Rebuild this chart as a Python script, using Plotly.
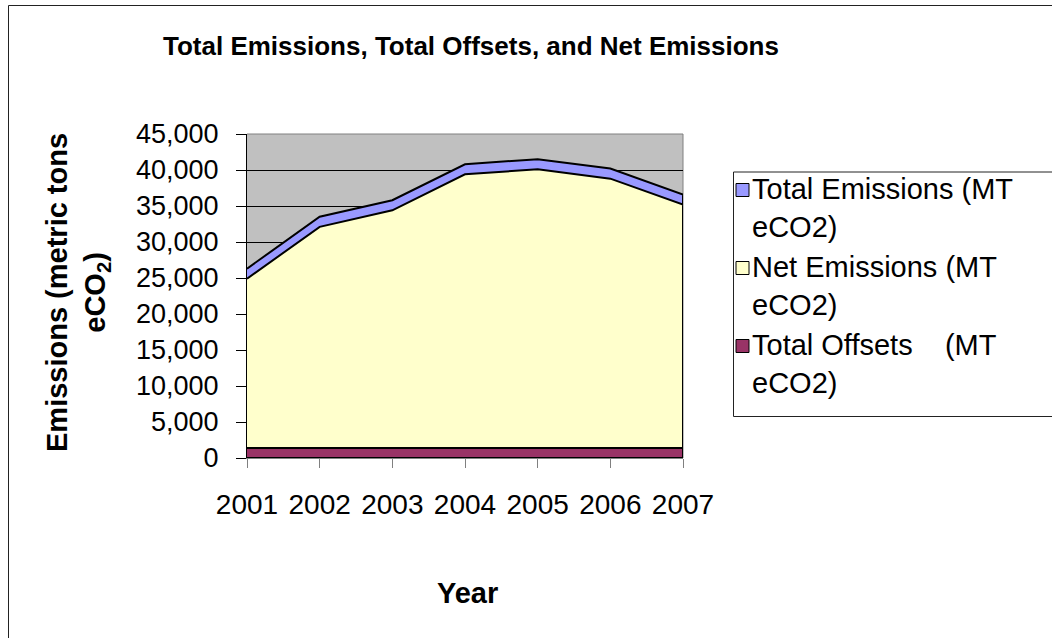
import plotly.graph_objects as go

# Data (metric tons eCO2)
years = [2001, 2002, 2003, 2004, 2005, 2006, 2007]
total_emissions = [26300, 33500, 35800, 40800, 41500, 40200, 36600]
net_emissions = [24900, 32100, 34400, 39400, 40100, 38800, 35200]
total_offsets = [1400, 1400, 1400, 1400, 1400, 1400, 1400]

series_names = [
    ("Total Emissions (MT", "eCO2)"),
    ("Net Emissions (MT", "eCO2)"),
    ("Total Offsets\u00a0\u00a0\u00a0\u00a0(MT", "eCO2)"),
]
series_colors = ["#9999FF", "#FFFFCC", "#993366"]

FONT = "Liberation Sans, Arial, sans-serif"
W, H = 1052, 638
# plot area in pixels
L, R, T, B = 247, 683, 134, 458


def px(x):
    return (x - L) / (R - L)


def py(y):
    return (B - y) / (B - T)


fig = go.Figure()

# Overlapping area series, each closed down to zero
for name, vals, color in zip(series_names, [total_emissions, net_emissions, total_offsets], series_colors):
    fig.add_trace(go.Scatter(
        x=years + [years[-1], years[0]],
        y=vals + [0, 0],
        mode="lines",
        fill="toself",
        fillcolor=color,
        line=dict(color="black", width=2),
        name=" ".join(name),
        showlegend=False,
        hoverinfo="skip",
    ))

shapes = []
annotations = []

# outer chart frame
shapes.append(dict(type="rect", xref="paper", yref="paper",
                   x0=px(8.5), x1=px(1070), y0=py(5.5), y1=py(660),
                   line=dict(color="#222222", width=1), layer="below"))
# plot-area top and right edges
shapes.append(dict(type="line", xref="paper", yref="paper",
                   x0=0, x1=1, y0=1, y1=1, line=dict(color="#808080", width=1), layer="below"))
shapes.append(dict(type="line", xref="paper", yref="paper",
                   x0=1, x1=1, y0=0, y1=1, line=dict(color="#808080", width=1), layer="below"))

# legend box
shapes.append(dict(type="rect", xref="paper", yref="paper",
                   x0=px(733.5), x1=px(1070), y0=py(172), y1=py(416.5),
                   line=dict(color="#222222", width=1), fillcolor="white", layer="below"))

legend_top = 190
item_pitch = 78
line_pitch = 38.5
for i, (name, color) in enumerate(zip(series_names, series_colors)):
    cy = legend_top + i * item_pitch
    shapes.append(dict(type="rect", xref="paper", yref="paper",
                       x0=px(736), x1=px(749), y0=py(cy - 6.5), y1=py(cy + 6.5),
                       line=dict(color="black", width=1), fillcolor=color, layer="above"))
    for j, part in enumerate(name):
        annotations.append(dict(
            text=part, xref="paper", yref="paper",
            x=px(750), y=py(cy - 1.5 + j * line_pitch),
            xanchor="left", yanchor="middle", showarrow=False,
            font=dict(family=FONT, size=29, color="black"),
        ))

# chart title
annotations.append(dict(
    text="Total Emissions, Total Offsets, and Net Emissions",
    xref="paper", yref="paper", x=px(471), y=py(46),
    xanchor="center", yanchor="middle", showarrow=False,
    font=dict(family=FONT, size=26, color="black", weight="bold"),
))
# y axis title
annotations.append(dict(
    text="Emissions (metric tons<br>eCO<sub>2</sub>)",
    xref="paper", yref="paper", x=px(78), y=py(293),
    xanchor="center", yanchor="middle", showarrow=False, textangle=-90,
    font=dict(family=FONT, size=29, color="black", weight="bold"),
))
# x axis title
annotations.append(dict(
    text="Year", xref="paper", yref="paper", x=px(467), y=py(593),
    xanchor="center", yanchor="middle", showarrow=False,
    font=dict(family=FONT, size=29, color="black", weight="bold"),
))

fig.update_layout(
    width=W, height=H, autosize=False,
    margin=dict(l=L, r=W - R, t=T, b=H - B, pad=0),
    paper_bgcolor="white",
    plot_bgcolor="#C0C0C0",
    showlegend=False,
    shapes=shapes,
    annotations=annotations,
    font=dict(family=FONT, color="black"),
)

fig.update_xaxes(
    range=[years[0], years[-1]],
    tickvals=years,
    ticktext=[str(y) for y in years],
    showgrid=False, zeroline=False,
    showline=True, linecolor="#808080", linewidth=1,
    ticks="outside", ticklen=9, tickcolor="#808080", tickwidth=1,
    tickfont=dict(family=FONT, size=28, color="black"),
    ticklabelstandoff=12,
)
fig.update_yaxes(
    range=[0, 45000],
    dtick=5000, tickformat=",",
    showgrid=True, gridcolor="black", gridwidth=1,
    zeroline=False,
    showline=True, linecolor="black", linewidth=1,
    ticks="outside", ticklen=10, tickcolor="black", tickwidth=1,
    tickfont=dict(family=FONT, size=27, color="black"),
    ticklabelstandoff=12,
)

fig.write_html("out.html")
